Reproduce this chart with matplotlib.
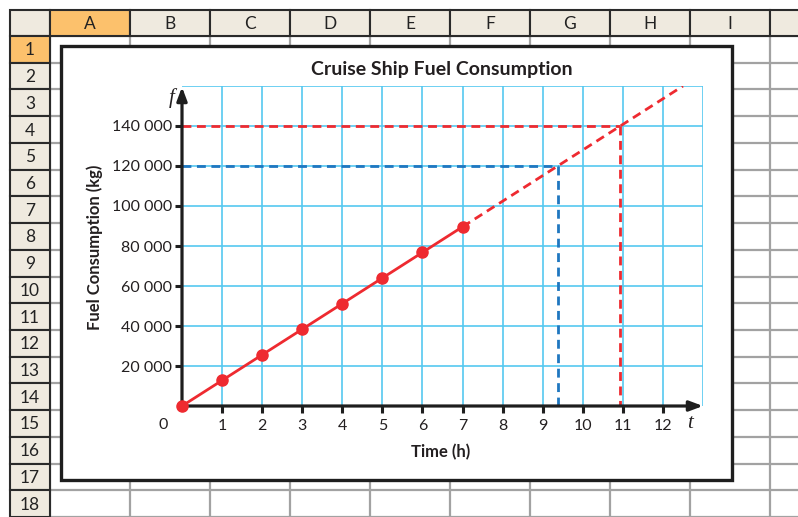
import numpy as np
import matplotlib
matplotlib.use('Agg')
import matplotlib.pyplot as plt
from matplotlib.patches import Rectangle

# data
hours = [0, 1, 2, 3, 4, 5, 6, 7]
fuel = [0, 12800, 25600, 38400, 51200, 64000, 76800, 89600]
ext_end = 12.5                  # dashed extension ends here (h)
targets = [120000, 140000]      # fuel levels read back to time
target_colors = ['#1f77c0', '#ee2a30']
x_ticks = list(range(1, 13))
y_ticks = list(range(20000, 140001, 20000))

# spreadsheet frame
col_names = ['A', 'B', 'C', 'D', 'E', 'F', 'G', 'H', 'I', '']
n_rows = 18

W, H = 798, 517
fig = plt.figure(figsize=(W / 100, H / 100), dpi=100)

# background: spreadsheet in pixel coordinates
bg = fig.add_axes([0, 0, 1, 1])
bg.set_xlim(0, W)
bg.set_ylim(H, 0)
bg.axis('off')

left, top, hdr_h, rh_w = 10, 10, 26, 40
col_w = 80
row_h = (H - (top + hdr_h)) / n_rows
gray = '#a2a2a2'
dark = '#2a2a2a'
beige = '#efeadf'
orange = '#fcc16c'
font = 'Lato'

# cell grid
for i in range(len(col_names) + 1):
    x = left + rh_w + col_w * i
    bg.plot([x, x], [top + hdr_h, H], color=gray, lw=1.6, zorder=1)
for r in range(n_rows + 1):
    y = top + hdr_h + row_h * r
    bg.plot([left + rh_w, W], [y, y], color=gray, lw=1.6, zorder=1)

# column headers
bg.add_patch(Rectangle((left, top), rh_w, hdr_h, fc=beige, ec=dark, lw=1.5, zorder=2))
for i, name in enumerate(col_names):
    x = left + rh_w + col_w * i
    fc = orange if name == 'A' else beige
    bg.add_patch(Rectangle((x, top), col_w, hdr_h, fc=fc, ec=dark, lw=1.5, zorder=2))
    bg.text(x + col_w / 2, top + hdr_h / 2 + 1, name, ha='center', va='center',
            fontsize=12.5, family=font, color='#222222', zorder=3)

# row headers
for r in range(n_rows):
    y = top + hdr_h + row_h * r
    fc = orange if r == 0 else beige
    bg.add_patch(Rectangle((left, y), rh_w, row_h, fc=fc, ec=dark, lw=1.5, zorder=2))
    bg.text(left + rh_w / 2, y + row_h / 2 + 1, str(r + 1), ha='center', va='center',
            fontsize=12.5, family=font, color='#222222', zorder=3)

# chart box
bg.add_patch(Rectangle((61, 46), 671, 434, fc='white', ec='#1e1e1e', lw=2.4, zorder=4))
bg.text(442, 69, 'Cruise Ship Fuel Consumption', ha='center', va='center',
        fontsize=14, fontweight='bold', family=font, color='#231f20', zorder=5)
bg.text(95, 247, 'Fuel Consumption (kg)', ha='center', va='center', rotation=90,
        fontsize=12, fontweight='bold', family=font, color='#231f20', zorder=5)
bg.text(441, 452, 'Time (h)', ha='center', va='center',
        fontsize=12, fontweight='bold', family=font, color='#231f20', zorder=5)

# plot axes: x 0..13 -> px 182..703, y 0..160000 -> px 406..86
x0, x1, y0, y1 = 182, 703, 406, 86
ax = fig.add_axes([x0 / W, (H - y0) / H, (x1 - x0) / W, (y0 - y1) / H])
ax.set_facecolor('none')
ax.set_xlim(0, 13)
ax.set_ylim(0, 160000)
for s in ax.spines.values():
    s.set_visible(False)

cyan = '#55c8f0'
ax.vlines(np.arange(1, 14), 0, 160000, color=cyan, lw=1.2, zorder=1)
ax.hlines(np.arange(20000, 160001, 20000), 0, 13, color=cyan, lw=1.2, zorder=1)

slope = fuel[1] - fuel[0]
dash = (3.2, 2.0)
for f_t, c in zip(targets, target_colors):
    t_t = f_t / slope
    ax.plot([0, t_t], [f_t, f_t], color=c, lw=2.0, dashes=dash, zorder=2)
    ax.plot([t_t, t_t], [f_t, 0], color=c, lw=2.0, dashes=dash, zorder=2)

red = '#ee2a30'
ax.plot([hours[-1], ext_end], [fuel[-1], slope * ext_end], color=red, lw=2.0,
        dashes=dash, zorder=3)

# axes with arrows
arrow = dict(arrowstyle='-|>,head_length=0.8,head_width=0.3',
             color='#1e1e1e', lw=2.3, shrinkA=0, shrinkB=0)
ax.annotate('', xy=(13, 0), xytext=(0, 0), annotation_clip=False,
            arrowprops=arrow, zorder=4)
ax.annotate('', xy=(0, 159500), xytext=(0, 0), annotation_clip=False,
            arrowprops=arrow, zorder=4)

ax.plot(hours, fuel, color=red, lw=2.0, marker='o', ms=8, zorder=5, clip_on=False)

ax.set_xticks(x_ticks)
ax.set_xticklabels([str(v) for v in x_ticks])
ax.set_yticks(y_ticks)
ax.set_yticklabels([f'{v:,}'.replace(',', ' ') for v in y_ticks])
ax.tick_params(direction='out', length=5, width=2.2, color='#1e1e1e',
               labelsize=11.5, labelcolor='#231f20')
ax.tick_params(axis='x', pad=4)
ax.tick_params(axis='y', pad=2)
for lab in ax.get_xticklabels() + ax.get_yticklabels():
    lab.set_family(font)

ax.annotate('0', xy=(0, 0), xytext=(-13.5, -14), textcoords='offset points',
            ha='center', va='center', fontsize=11.5, family=font, color='#231f20')
ax.text(-0.25, 154000, 'f', ha='center', va='center', fontsize=15,
        family='Liberation Serif', style='italic', color='#231f20')
ax.annotate('t', xy=(12.68, 0), xytext=(0, -12.5), textcoords='offset points',
            ha='center', va='center', fontsize=15, family='Liberation Serif',
            style='italic', color='#231f20')

fig.savefig('out.png', dpi=100)
